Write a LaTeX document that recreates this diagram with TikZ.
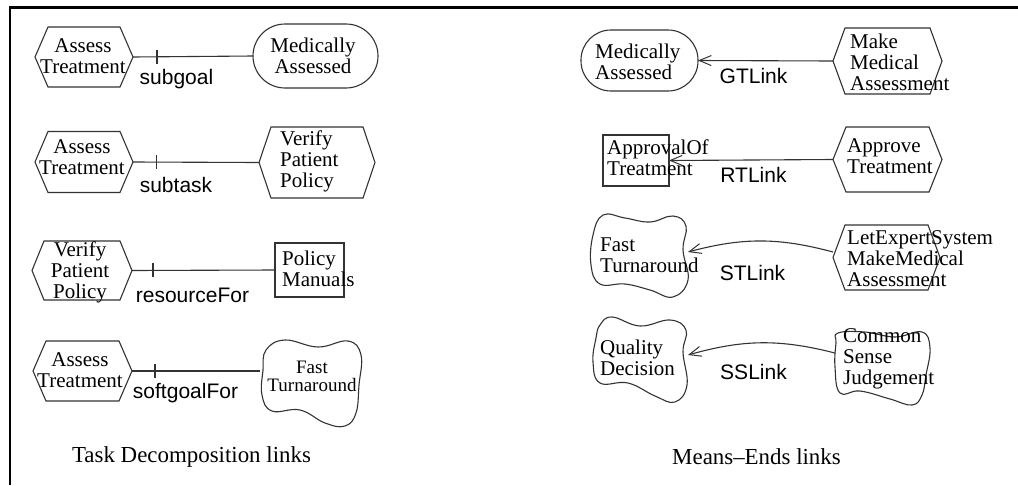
\documentclass[tikz,border=0pt]{standalone}
\usepackage{fontspec}
\setmainfont{Liberation Serif}
\setsansfont{Liberation Sans}
\usetikzlibrary{arrows.meta}

% hexagonal outline around a (shape-only) node; #2 = horizontal inset of the top/bottom edges
\newcommand{\hexoutline}[2]{%
  \draw[outline] (#1.west) -- ([xshift=#2]#1.north west) -- ([xshift=-#2]#1.north east)
    -- (#1.east) -- ([xshift=-#2]#1.south east) -- ([xshift=#2]#1.south west) -- cycle;}

\begin{document}
\begin{tikzpicture}[x=1pt,y=-1pt,
  outline/.style={draw=black!80, line width=1.1pt},
  shapebox/.style 2 args={inner sep=0pt, outer sep=0pt, minimum width=#1, minimum height=#2},
  elemtext/.style={inner sep=0pt, font=\fontsize{21}{21}\selectfont},
  lefttext/.style={elemtext, anchor=west, align=left},
  midtext/.style={elemtext, align=center},
  linklabel/.style={inner sep=0pt, font=\sffamily\fontsize{21}{24}\selectfont},
  caption/.style={inner sep=0pt, font=\fontsize{22.9}{24}\selectfont},
  means/.style={outline, -{Straight Barb[length=12pt, width=10pt, line width=1pt]}}
]
\useasboundingbox (0,0) rectangle (1018,485);

% frame
\draw[line width=2.5pt] (10,485) -- (10,7.5) -- (1018,7.5);

% ---------------- Task decomposition links ----------------
% row 1
\node[shapebox={98}{60}] (a1) at (84,57) {};
\hexoutline{a1}{13}
\node[shapebox={125}{64}, outline, rounded corners=32pt] (g1) at (315.5,56) {};
\node[midtext] (ta1) at (83,56) {Assess\\Treatment};
\node[midtext] (tg1) at (313,56) {Medically\\Assessed};
\draw[outline] (a1.east) -- (g1.west) coordinate[pos=0.2] (k1);
\draw[outline] ([yshift=7pt]k1) -- ([yshift=-7pt]k1);
\node[linklabel] (l1) at (176.5,79) {subgoal};

% row 2
\node[shapebox={98}{61}] (a2) at (84,162) {};
\hexoutline{a2}{13}
\node[shapebox={116}{71}] (v2) at (317,162.5) {};
\hexoutline{v2}{12}
\node[midtext] (ta2) at (82,157) {Assess\\Treatment};
\node[lefttext] (tv2) at (280,161) {Verify\\Patient\\Policy};
\draw[outline] (a2.east) -- (v2.west) coordinate[pos=0.19] (k2);
\draw[outline] ([yshift=7pt]k2) -- ([yshift=-7pt]k2);
\node[linklabel] (l2) at (176,185) {subtask};

% row 3
\node[shapebox={100}{59}] (v3) at (82,270.5) {};
\hexoutline{v3}{12}
\node[shapebox={69}{54}, outline] (pm) at (309.5,270) {};
\node[midtext] (tv3) at (80,272) {Verify\\Patient\\Policy};
\node[lefttext] (tpm) at (282,269) {Policy\\Manuals};
\draw[outline] (v3.east) -- (pm.west) coordinate[pos=0.147] (k3);
\draw[outline] ([yshift=7pt]k3) -- ([yshift=-7pt]k3);
\node[linklabel] (l3) at (192.5,295) {resourceFor};

% row 4
\node[shapebox={99}{60}] (a4) at (82.5,371) {};
\hexoutline{a4}{13}
\node[shapebox={102}{89}] (ft1) at (311,382.5) {};
\draw[outline] plot[smooth cycle, tension=0.7] coordinates {
  (266,350) (285,340) (318,347) (348,341) (361,355) (359,385) (356,413)
  (345,426) (325,423) (300,410) (272,411) (262,395) (263,370)};
\node[midtext] (ta4) at (80,370) {Assess\\Treatment};
\node[elemtext, align=center, font=\fontsize{19}{18}\selectfont] (tft1) at (312,376) {Fast\\Turnaround};
\draw[outline] (a4.east) -- (a4.east -| ft1.west) coordinate[pos=0.18] (k4);
\draw[outline] ([yshift=7pt]k4) -- ([yshift=-7pt]k4);
\node[linklabel] (l4) at (185.5,393) {softgoalFor};

\node[caption] (cap1) at (191.5,457) {Task Decomposition links};

% ---------------- Means-ends links ----------------
% goal link
\node[shapebox={117}{61}, outline, rounded corners=30pt] (g2) at (639.5,60.5) {};
\node[shapebox={109}{66}] (mm) at (887.5,61) {};
\hexoutline{mm}{12}
\node[lefttext] (tg2) at (595,62) {Medically\\Assessed};
\node[lefttext] (tmm) at (850,62) {Make\\Medical\\Assessment};
\draw[means] (mm.west) -- (g2.east);
\node[linklabel] (l5) at (753.5,76) {GTLink};

% resource link
\node[shapebox={66}{51}, outline] (ao) at (636,160.5) {};
\node[shapebox={109}{65}] (at) at (887.5,159.5) {};
\hexoutline{at}{13}
\node[lefttext] (tao) at (607,157.5) {ApprovalOf\\Treatment};
\node[lefttext] (tat) at (847,156) {Approve\\Treatment};
\draw[means] (at.west) -- (ao.east);
\node[linklabel] (l6) at (753.5,175) {RTLink};

% softgoal-task link
\node[shapebox={98}{85}] (ft2) at (639,255.5) {};
\draw[outline] plot[smooth cycle, tension=0.7] coordinates {
  (603,215) (625,218) (650,222) (673,216) (686,226) (683,250) (688,280)
  (673,297) (650,290) (625,284) (600,284) (591,265) (593,235)};
\node[shapebox={107}{65}] (le) at (886.5,257.5) {};
\hexoutline{le}{12}
\node[lefttext] (tft2) at (600,255) {Fast\\Turnaround};
\node[lefttext] (tle) at (847,258.5) {LetExpertSystem\\MakeMedical\\Assessment};
\draw[means] ([yshift=5.5pt]le.west) to[bend right=15] ([yshift=3.5pt]ft2.east);
\node[linklabel] (l7) at (752.5,273) {STLink};

% softgoal-softgoal link
\node[shapebox={95}{85}] (qd) at (640.5,359.5) {};
\draw[outline] plot[smooth cycle, tension=0.7] coordinates {
  (600,325) (612,317) (640,326) (670,320) (686,330) (683,352) (687,385)
  (675,402) (655,396) (628,383) (600,383) (593,362) (596,338)};
\node[shapebox={95}{75}] (cs) at (882.5,367.5) {};
\draw[outline] plot[smooth cycle, tension=0.7] coordinates {
  (838,333) (865,332) (895,337) (922,332) (930,348) (926,375) (922,395)
  (912,405) (890,399) (860,391) (840,393) (835,367) (836,343)};
\node[lefttext] (tqd) at (600,357.5) {Quality\\Decision};
\node[lefttext] (tcs) at (843,358.5) {Common\\Sense\\Judgement};
\draw[means] ([yshift=14.5pt]cs.west) to[bend right=15] ([yshift=4.5pt]qd.east);
\node[linklabel] (l8) at (753.5,372) {SSLink};

\node[caption] (cap2) at (756.5,457) {Means--Ends links};
\end{tikzpicture}
\end{document}
